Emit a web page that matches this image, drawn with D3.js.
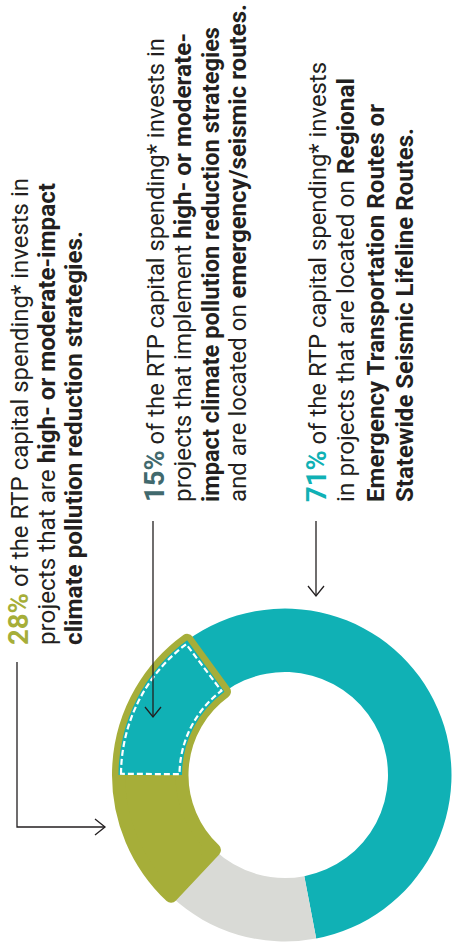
<!DOCTYPE html>
<html><head><meta charset="utf-8">
<script src="https://cdn.jsdelivr.net/npm/d3@7"></script>
<style>html,body{margin:0;padding:0;background:#fff;} svg{display:block;}</style>
</head><body>
<script>
// ---- data ----
const segmentNames  = ["Both (climate + emergency)", "Emergency/seismic routes only", "Other", "Climate strategies only"];
const segmentValues = [15, 57, 15, 13];
const percentLabels = ["28%", "15%", "71%"];
const block1Lines = [
  [["28%", "p"], [" of the RTP capital spending* invests in", "r"]],
  [["projects that are ", "r"], ["high- or moderate-impact", "b"]],
  [["climate pollution reduction strategies.", "b"]]
];
const block2Lines = [
  [["15%", "p"], [" of the RTP capital spending* invests in", "r"]],
  [["projects that implement ", "r"], ["high- or moderate-", "b"]],
  [["impact climate pollution reduction strategies", "b"]],
  [["and are located on ", "r"], ["emergency/seismic routes.", "b"]]
];
const block3Lines = [
  [["71%", "p"], [" of the RTP capital spending* invests", "r"]],
  [["in projects that are located on ", "r"], ["Regional", "b"]],
  [["Emergency Transportation Routes or", "b"]],
  [["Statewide Seismic Lifeline Routes.", "b"]]
];

// ---- style / layout ----
const W = 453, H = 950;
const TEAL = "#10b1b5", GREEN = "#a6ae39", GRAY = "#d9dad6", INK = "#231f20";
const pctColors = [GREEN, "#41696d", TEAL];
const FONT = "Roboto, 'Liberation Sans', Arial, sans-serif";

const svg = d3.select("body").append("svg").attr("width", W).attr("height", H);
// rotated frame: group (X,Y) -> screen (Y, H - X)
const g = svg.append("g").attr("transform", `translate(0,${H}) rotate(-90)`);

const cx = H - 775, cy = 285;
const rIn = 103, rOut = 166.5;

const pie = d3.pie().sort(null).value(d => d)(segmentValues);
const arc = d3.arc().innerRadius(rIn).outerRadius(rOut);
const donut = g.append("g").attr("transform", `translate(${cx},${cy})`);

donut.append("path").attr("d", arc(pie[1])).attr("fill", TEAL);
donut.append("path").attr("d", arc(pie[2])).attr("fill", GRAY);
const greenArc = { startAngle: pie[3].startAngle, endAngle: 2 * Math.PI + pie[0].endAngle };
donut.append("path").attr("d", arc(greenArc))
  .attr("fill", GREEN).attr("stroke", GREEN).attr("stroke-width", 13).attr("stroke-linejoin", "round");
donut.append("path").attr("d", arc(pie[0])).attr("fill", TEAL);
const rMid = (rIn + rOut) / 2;
const dashArc = d3.arc().innerRadius(rIn + 2.5).outerRadius(rOut - 2.5);
donut.append("path")
  .attr("d", dashArc({ startAngle: pie[0].startAngle + 1 / rMid, endAngle: pie[0].endAngle - 2.5 / rMid }))
  .attr("fill", "none").attr("stroke", "#fff").attr("stroke-width", 2.2).attr("stroke-dasharray", "6,3");

// ---- text blocks ----
function drawBlock(lines, x0, baselines, lengths, pctColor) {
  lines.forEach((runs, i) => {
    const t = g.append("text")
      .attr("x", x0).attr("y", baselines[i])
      .attr("font-family", FONT).attr("font-size", 23.5).attr("fill", INK)
      .attr("textLength", lengths[i]).attr("lengthAdjust", "spacingAndGlyphs");
    runs.forEach(([s, k]) => {
      const ts = t.append("tspan").text(s);
      if (k === "b") ts.attr("font-weight", 700);
      if (k === "p") ts.attr("font-weight", 700).attr("fill", pctColor).attr("font-size", 27);
    });
  });
}
drawBlock(block1Lines, H - 645, [27.5, 55, 82], [645 - 178, 645 - 183, 645 - 231], pctColors[0]);
drawBlock(block2Lines, H - 502, [163.5, 191, 218.5, 246], [502 - 38, 502 - 33, 502 - 27, 502 - 4], pctColors[1]);
drawBlock(block3Lines, H - 502, [326, 354, 384, 413], [502 - 62, 502 - 78, 502 - 104, 502 - 128], pctColors[2]);

// ---- annotation arrows (screen frame) ----
const ann = svg.append("g").attr("fill", "none").attr("stroke", INK).attr("stroke-width", 1.3);
ann.append("path").attr("d", "M17,662 V827 H105");
ann.append("path").attr("d", "M95,819 L105,827 L95,835");
ann.append("path").attr("d", "M153,521 V717");
ann.append("path").attr("d", "M145,707 L153,717 L161,707");
ann.append("path").attr("d", "M316,521 V596");
ann.append("path").attr("d", "M308,586 L316,596 L324,586");
</script>
</body></html>
